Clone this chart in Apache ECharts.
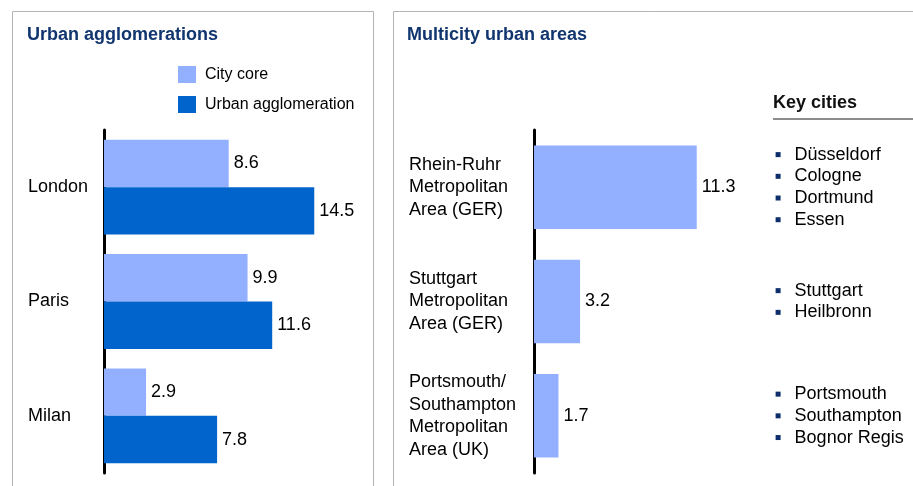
<!DOCTYPE html>
<html>
<head>
<meta charset="utf-8">
<script src="https://cdn.jsdelivr.net/npm/echarts@6/dist/echarts.min.js"></script>
<style>
html,body{margin:0;padding:0;background:#fff;}
#c{width:913px;height:486px;}
</style>
</head>
<body>
<div id="c"></div>
<script>
// ---- data ----
var leftCategories = ['London', 'Paris', 'Milan'];
var cityCore = [8.6, 9.9, 2.9];
var urbanAgglomeration = [14.5, 11.6, 7.8];
var seriesNames = ['City core', 'Urban agglomeration'];

var rightCategories = ['Rhein-Ruhr\nMetropolitan\nArea (GER)', 'Stuttgart\nMetropolitan\nArea (GER)', 'Portsmouth/\nSouthampton\nMetropolitan\nArea (UK)'];
var multicityValues = [11.3, 3.2, 1.7];
var keyCities = [
  ['Düsseldorf', 'Cologne', 'Dortmund', 'Essen'],
  ['Stuttgart', 'Heilbronn'],
  ['Portsmouth', 'Southampton', 'Bognor Regis']
];
var titles = ['Urban agglomerations', 'Multicity urban areas', 'Key cities'];

// ---- chart ----
var FONT = '"Liberation Sans", Arial, Helvetica, sans-serif';
var LIGHT = '#93afff';
var DARK = '#0064cc';
var NAVY = '#10356f';

var chart = echarts.init(document.getElementById('c'), null, {renderer: 'canvas'});

var labelStyle = {show: true, position: 'right', distance: 5, fontSize: 18, color: '#000', fontFamily: FONT};

var option = {
  animation: false,
  backgroundColor: '#fff',
  textStyle: {fontFamily: FONT},
  title: [
    {text: titles[0], left: 27, top: 26, padding: 0, textStyle: {fontSize: 18, fontWeight: 'bold', color: NAVY, fontFamily: FONT}},
    {text: titles[1], left: 407, top: 26, padding: 0, textStyle: {fontSize: 18, fontWeight: 'bold', color: NAVY, fontFamily: FONT}},
    {text: titles[2], left: 773, top: 94, padding: 0, textStyle: {fontSize: 18, fontWeight: 'bold', color: '#111', fontFamily: FONT}}
  ],
  legend: {
    data: seriesNames,
    orient: 'vertical',
    left: 178,
    top: 66,
    padding: 0,
    itemWidth: 18,
    itemHeight: 17,
    itemGap: 13,
    icon: 'rect',
    textStyle: {fontSize: 16, color: '#000', fontFamily: FONT, padding: [0, 0, 0, 4]}
  },
  graphic: [
    {type: 'polyline', shape: {points: [[12.5, 500], [12.5, 11.5], [373.5, 11.5], [373.5, 500]]}, style: {stroke: '#b4b4b4', lineWidth: 1, fill: null}},
    {type: 'polyline', shape: {points: [[393.5, 500], [393.5, 11.5], [920, 11.5]]}, style: {stroke: '#b4b4b4', lineWidth: 1, fill: null}},
    {type: 'line', shape: {x1: 773, y1: 119, x2: 913, y2: 119}, style: {stroke: '#666', lineWidth: 1.5}}
  ],
  grid: [
    {left: 104, top: 130, width: 16 * 14.5, bottom: 13, containLabel: false},
    {left: 534, top: 130, width: 14 * 14.4, bottom: 13, containLabel: false}
  ],
  xAxis: [
    {gridIndex: 0, type: 'value', min: 0, max: 16, show: false},
    {gridIndex: 1, type: 'value', min: 0, max: 14, show: false}
  ],
  yAxis: [
    {
      gridIndex: 0, type: 'category', data: leftCategories, inverse: true,
      axisLine: {show: true, lineStyle: {color: '#000', width: 3}},
      axisTick: {show: false},
      axisLabel: {align: 'left', margin: 76, fontSize: 18, color: '#000', fontFamily: FONT, interval: 0}
    },
    {
      gridIndex: 1, type: 'category', data: rightCategories, inverse: true,
      axisLine: {show: true, lineStyle: {color: '#000', width: 3}},
      axisTick: {show: false},
      axisLabel: {align: 'left', margin: 125, fontSize: 18, lineHeight: 22.5, color: '#000', fontFamily: FONT, interval: 0}
    },
    {
      gridIndex: 1, type: 'category', data: rightCategories, inverse: true, position: 'right',
      axisLine: {show: false}, axisTick: {show: false},
      axisLabel: {
        align: 'left', margin: 40, interval: 0,
        formatter: function (v, i) {
          return keyCities[i].map(function (c) { return '{b| }{t|' + c + '}'; }).join('\n');
        },
        rich: {
          b: {width: 5, height: 5, backgroundColor: '#0d2d6b', lineHeight: 21.7, fontSize: 5},
          t: {fontSize: 18, lineHeight: 21.7, color: '#000', padding: [0, 0, 0, 14], fontFamily: FONT}
        }
      }
    }
  ],
  series: [
    {
      name: seriesNames[0], type: 'bar', xAxisIndex: 0, yAxisIndex: 0,
      data: cityCore, itemStyle: {color: LIGHT}, barGap: '0%', barCategoryGap: '17%',
      label: labelStyle
    },
    {
      name: seriesNames[1], type: 'bar', xAxisIndex: 0, yAxisIndex: 0,
      data: urbanAgglomeration, itemStyle: {color: DARK}, barGap: '0%', barCategoryGap: '17%',
      label: labelStyle
    },
    {
      name: 'Multicity', type: 'bar', xAxisIndex: 1, yAxisIndex: 1,
      data: multicityValues, itemStyle: {color: LIGHT}, barCategoryGap: '27%',
      label: labelStyle
    }
  ]
};
chart.setOption(option);
</script>
</body>
</html>
